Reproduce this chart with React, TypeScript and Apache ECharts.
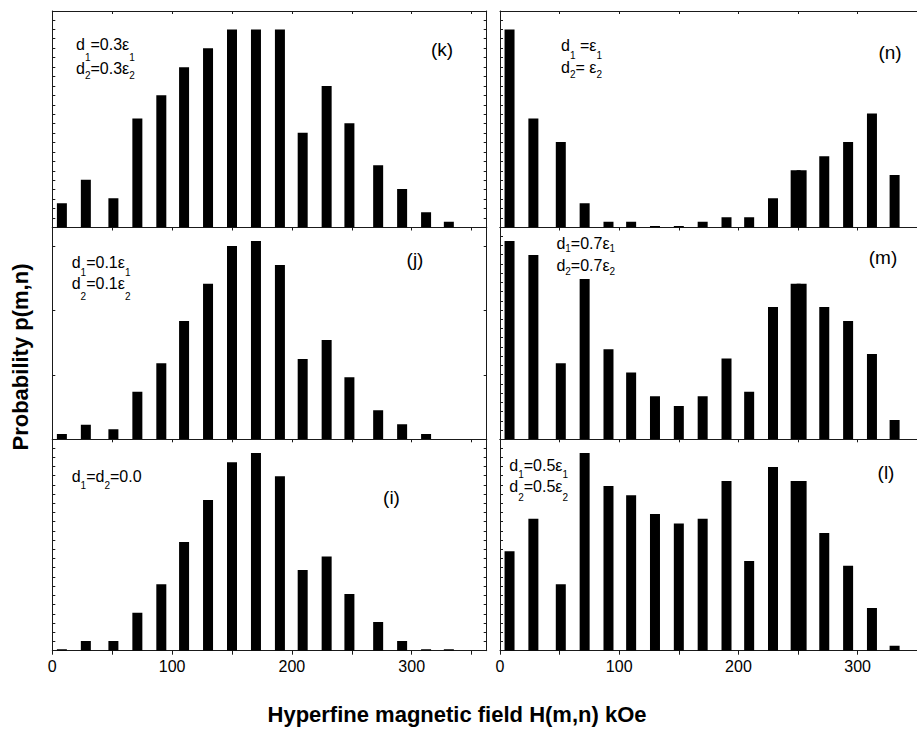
import React, { useEffect, useRef } from "react";
import * as echarts from "echarts";

// Hyperfine field values (kOe) at which the bars stand
const fieldLeft = [8, 28, 51, 71, 91, 110, 130, 150, 170, 190, 209, 229, 248, 272, 292, 312, 331];
const fieldRight = [8, 28, 51, 71, 91, 110, 130, 150, 170, 190, 209, 229, 248, 253, 272, 292, 312, 331];

// Probability p(m,n) (arbitrary units: % of panel height)
const probK = [11.2, 22.1, 13.5, 50.4, 61.1, 74.0, 82.8, 91.4, 91.4, 91.4, 43.8, 65.4, 48.1, 28.7, 17.8, 7.1, 2.6];
const probJ = [2.5, 6.9, 4.7, 22.5, 35.9, 55.9, 73.5, 91.3, 93.6, 82.3, 37.9, 46.9, 29.3, 13.7, 7.1, 2.5, 0];
const probI = [0.7, 4.6, 4.6, 18.0, 31.4, 51.4, 71.3, 89.1, 93.5, 82.5, 38.2, 44.6, 26.8, 13.6, 4.6, 0.7, 0.7];
const probN = [91.4, 50.4, 39.5, 11.2, 2.6, 2.6, 0.7, 0.7, 2.6, 4.7, 4.7, 13.5, 26.5, 26.5, 32.9, 39.5, 52.6, 24.2];
const probM = [93.6, 87.0, 35.9, 75.7, 42.5, 31.5, 20.3, 15.7, 20.3, 38.1, 22.5, 62.5, 73.5, 73.5, 62.5, 55.9, 40.3, 9.1];
const probL = [47.0, 62.4, 31.4, 93.5, 77.9, 73.5, 64.7, 60.2, 62.4, 80.3, 42.4, 86.9, 80.3, 80.3, 55.7, 40.2, 20.2, 2.4];

// Axis ticks and labels
const xTickValues = [0, 50, 100, 150, 200, 250, 300, 350];
const xLabelValues = [0, 100, 200, 300];
const xTitle = "Hyperfine magnetic field H(m,n) kOe";
const yTitle = "Probability p(m,n)";

const FONT = "'Liberation Sans', Arial, Helvetica, sans-serif";
const INK = "#000";
const AXIS = "#1a1a1a";
const BAR_W = 10;

const rows = [
  { top: 11, height: 216.5 },
  { top: 227.5, height: 211.8 },
  { top: 439.3, height: 211.4 },
];
const cols = [
  { left: 52.3, width: 434.4, max: 362.6 },
  { left: 500, width: 420, max: 352.3 },
];

type Part = [string, boolean];
type Line = { x: number; y: number; dy: number; parts: Part[] };

const panels: {
  row: number;
  col: number;
  field: number[];
  prob: number[];
  label: string;
  labelPos: [number, number];
  yInterval: number;
  lines: Line[];
}[] = [
  {
    row: 0, col: 0, field: fieldLeft, prob: probK, label: "(k)", labelPos: [442, 49], yInterval: 4.36,
    lines: [
      { x: 76, y: 44.5, dy: 13, parts: [["d", false], ["1", true], ["=0.3\u03b5", false], ["1", true]] },
      { x: 76, y: 68.7, dy: 6.3, parts: [["d", false], ["2", true], ["=0.3\u03b5", false], ["2", true]] },
    ],
  },
  {
    row: 0, col: 1, field: fieldRight, prob: probN, label: "(n)", labelPos: [890, 52], yInterval: 4.36,
    lines: [
      { x: 561, y: 45, dy: 10, parts: [["d", false], ["1", true], [" =\u03b5", false], ["1", true]] },
      { x: 561, y: 67.5, dy: 6.5, parts: [["d", false], ["2", true], ["= \u03b5", false], ["2", true]] },
    ],
  },
  {
    row: 1, col: 0, field: fieldLeft, prob: probJ, label: "(j)", labelPos: [415, 259], yInterval: 30.4,
    lines: [
      { x: 71.7, y: 262, dy: 10.5, parts: [["d", false], ["1", true], ["=0.1\u03b5", false], ["1", true]] },
      { x: 71.7, y: 283.7, dy: 12.3, parts: [["d", false], ["2", true], ["=0.1\u03b5", false], ["2", true]] },
    ],
  },
  {
    row: 1, col: 1, field: fieldRight, prob: probM, label: "(m)", labelPos: [883, 257], yInterval: 4.36,
    lines: [
      { x: 556.4, y: 243, dy: 5, parts: [["d", false], ["1", true], ["=0.7\u03b5", false], ["1", true]] },
      { x: 556.4, y: 265.5, dy: 5.5, parts: [["d", false], ["2", true], ["=0.7\u03b5", false], ["2", true]] },
    ],
  },
  {
    row: 2, col: 0, field: fieldLeft, prob: probI, label: "(i)", labelPos: [391.5, 497], yInterval: 4.36,
    lines: [
      { x: 71.7, y: 476.7, dy: 9, parts: [["d", false], ["1", true], ["=d", false], ["2", true], ["=0.0", false]] },
    ],
  },
  {
    row: 2, col: 1, field: fieldRight, prob: probL, label: "(l)", labelPos: [886, 472], yInterval: 4.36,
    lines: [
      { x: 509.3, y: 465, dy: 9, parts: [["d", false], ["1", true], ["=0.5\u03b5", false], ["1", true]] },
      { x: 509.3, y: 486, dy: 11.5, parts: [["d", false], ["2", true], ["=0.5\u03b5", false], ["2", true]] },
    ],
  },
];

let measureCtx: CanvasRenderingContext2D | null = null;
function measure(text: string, size: number): number {
  if (!measureCtx) measureCtx = document.createElement("canvas").getContext("2d");
  if (!measureCtx) return text.length * size * 0.55;
  measureCtx.font = `${size}px 'Liberation Sans'`;
  return measureCtx.measureText(text).width;
}

function textEl(text: string, x: number, y: number, size: number, extra: any = {}) {
  return {
    type: "text",
    x,
    y,
    silent: true,
    rotation: extra.rotation || 0,
    style: {
      text,
      fontSize: size,
      fontFamily: FONT,
      fontWeight: extra.bold ? "bold" : "normal",
      fill: INK,
      align: extra.align || "left",
      verticalAlign: "middle",
    },
  };
}

function lineEls(line: Line) {
  const out: any[] = [];
  let x = line.x;
  for (const [t, sub] of line.parts) {
    const size = sub ? 10 : 16;
    out.push(textEl(t, x, line.y + (sub ? line.dy : 0), size));
    x += measure(t, size);
  }
  return out;
}

function buildOption() {
  const grid: any[] = [];
  const xAxis: any[] = [];
  const yAxis: any[] = [];
  const series: any[] = [];
  const graphic: any[] = [];

  panels.forEach((p, i) => {
    const r = rows[p.row];
    const c = cols[p.col];
    const bottomRow = p.row === 2;
    grid.push({
      left: c.left,
      top: r.top,
      width: c.width,
      height: r.height,
      containLabel: false,
      outerBoundsMode: "none",
    });
    const lineStyle = { color: AXIS, width: 1 };
    xAxis.push({
      type: "value",
      gridIndex: i,
      position: "bottom",
      min: 0,
      max: c.max,
      axisLine: { show: true, onZero: false, lineStyle },
      axisTick: { show: bottomRow, inside: false, length: 4, customValues: xTickValues, lineStyle },
      axisLabel: {
        show: bottomRow,
        customValues: xLabelValues,
        fontSize: 16,
        fontFamily: FONT,
        color: INK,
        margin: 8,
      },
      splitLine: { show: false },
    });
    xAxis.push({
      type: "value",
      gridIndex: i,
      position: "top",
      min: 0,
      max: c.max,
      axisLine: { show: true, onZero: false, lineStyle },
      axisTick: { show: true, inside: true, length: 3, customValues: xTickValues, lineStyle },
      axisLabel: { show: false },
      splitLine: { show: false },
    });
    const yBase = {
      type: "value",
      gridIndex: i,
      min: 0,
      max: 100,
      interval: p.yInterval,
      axisLine: { show: true, onZero: false, lineStyle },
      axisTick: { show: true, inside: true, length: 3, lineStyle },
      axisLabel: { show: false },
      splitLine: { show: false },
    };
    yAxis.push({ ...yBase, position: "left" });
    yAxis.push({ ...yBase, position: "right" });

    series.push({
      type: "custom",
      coordinateSystem: "cartesian2d",
      xAxisIndex: 2 * i,
      yAxisIndex: 2 * i,
      silent: true,
      clip: true,
      encode: { x: 0, y: 1 },
      data: p.field.map((f, j) => [f, p.prob[j]]),
      renderItem: (_params: any, api: any) => {
        const x = api.value(0) as number;
        const y = api.value(1) as number;
        const base = api.coord([x, 0]);
        const top = api.coord([x, y]);
        return {
          type: "rect",
          shape: { x: base[0] - BAR_W / 2, y: top[1], width: BAR_W, height: base[1] - top[1] },
          style: { fill: INK },
        };
      },
    });

    graphic.push(textEl(p.label, p.labelPos[0], p.labelPos[1], 19, { align: "center" }));
    p.lines.forEach((ln) => graphic.push(...lineEls(ln)));
  });

  graphic.push(textEl(xTitle, 457, 714, 22, { align: "center", bold: true }));
  graphic.push(textEl(yTitle, 20, 357, 22, { align: "center", bold: true, rotation: Math.PI / 2 }));

  return {
    animation: false,
    backgroundColor: "#fff",
    textStyle: { fontFamily: FONT },
    grid,
    xAxis,
    yAxis,
    series,
    graphic,
  };
}

export default function App() {
  const ref = useRef<HTMLDivElement>(null);
  useEffect(() => {
    if (!ref.current) return;
    const chart = echarts.init(ref.current, undefined, { renderer: "svg" });
    chart.setOption(buildOption() as any);
    return () => chart.dispose();
  }, []);
  return (
    <div
      ref={ref}
      style={{ position: "fixed", left: 0, top: 0, width: 917, height: 731, background: "#fff" }}
    />
  );
}
